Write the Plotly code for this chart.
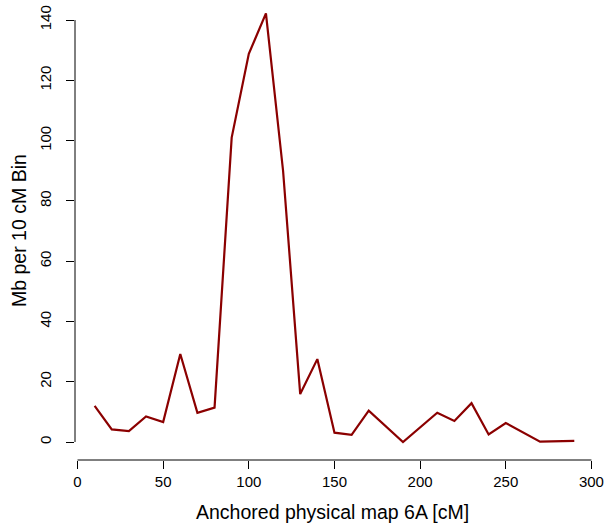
import plotly.graph_objects as go

cm_bins = [10, 20, 30, 40, 50, 60, 70, 80, 90, 100, 110, 120, 130, 140, 150, 160,
           170, 190, 210, 220, 230, 240, 250, 270, 290]
mb_per_bin = [12.0, 4.2, 3.6, 8.5, 6.6, 29.2, 9.7, 11.4, 101.0, 128.8, 142.2, 90.0,
              15.9, 27.5, 3.1, 2.4, 10.4, 0.0, 9.7, 7.0, 12.9, 2.5, 6.3, 0.1, 0.4]
x_ticks = [0, 50, 100, 150, 200, 250, 300]
y_ticks = [0, 20, 40, 60, 80, 100, 120, 140]
x_title = "Anchored physical map 6A [cM]"
y_title = "Mb per 10 cM Bin"

font_family = "Liberation Sans, Arial, sans-serif"

fig = go.Figure()
fig.add_trace(go.Scatter(x=cm_bins, y=mb_per_bin, mode="lines",
                         line=dict(color="#8B0000", width=2.2), showlegend=False))

fig.update_layout(
    width=604, height=524,
    margin=dict(l=75, r=10, t=0, b=64),
    paper_bgcolor="white", plot_bgcolor="white",
    font=dict(family=font_family, color="black"),
    xaxis=dict(range=[-1.46, 301.5], tickvals=x_ticks, ticks="outside", ticklen=8,
               tickwidth=1, tickcolor="black", showgrid=False, zeroline=False,
               showline=False, tickfont=dict(size=15), automargin=False,
               ticklabeloverflow="allow"),
    yaxis=dict(range=[-5.97, 146.65], tickvals=y_ticks, ticks="outside", ticklen=8,
               tickwidth=1, tickcolor="black", showgrid=False, zeroline=False,
               showline=False, tickangle=-90, tickfont=dict(size=15), automargin=False,
               ticklabelstandoff=9, ticklabeloverflow="allow"),
    shapes=[
        dict(type="line", xref="x", yref="paper", x0=0, x1=300, y0=0, y1=0,
             line=dict(color="black", width=1)),
        dict(type="line", xref="paper", yref="y", x0=0, x1=0, y0=0, y1=140,
             line=dict(color="black", width=1)),
    ],
    annotations=[
        dict(text=x_title, xref="paper", yref="paper", x=(332 - 75) / 519,
             y=-(512 - 460) / 460, xanchor="center", yanchor="middle",
             showarrow=False, font=dict(size=19.5)),
        dict(text=y_title, xref="paper", yref="paper", x=-(75 - 19) / 519,
             y=(460 - 231) / 460, xanchor="center", yanchor="middle", textangle=-90,
             showarrow=False, font=dict(size=19.5)),
    ],
)

fig.write_html("out.html", config={"displayModeBar": False},
               post_script="document.body.style.margin='0';document.body.style.overflow='hidden';")
